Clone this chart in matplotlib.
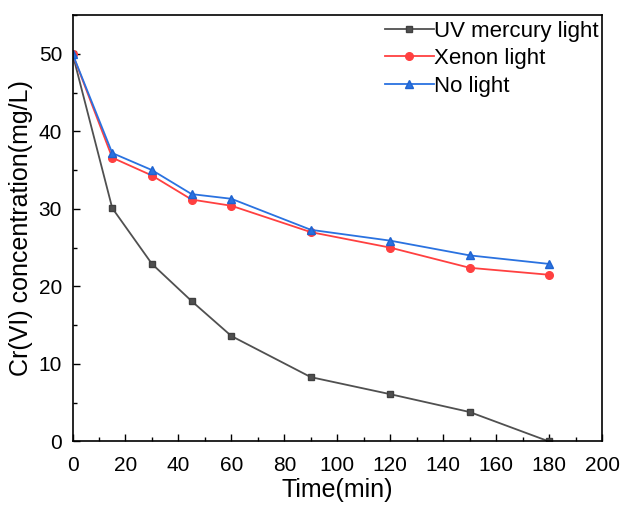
import matplotlib
matplotlib.use("Agg")
import matplotlib.pyplot as plt
from matplotlib.ticker import MultipleLocator

plt.rcParams['font.family'] = ['Liberation Sans', 'DejaVu Sans']

time = [0, 15, 30, 45, 60, 90, 120, 150, 180]
uv_mercury = [50.0, 30.1, 22.9, 18.1, 13.6, 8.3, 6.1, 3.8, 0.0]
xenon = [50.0, 36.6, 34.3, 31.2, 30.4, 27.0, 25.0, 22.4, 21.5]
no_light = [50.0, 37.2, 35.0, 31.9, 31.3, 27.3, 25.9, 24.0, 22.9]

fig = plt.figure(figsize=(6.22, 5.07), dpi=100)
ax = fig.add_axes([0.1166, 0.1292, 0.968 - 0.1166, 0.9704 - 0.1292])

ax.plot(time, uv_mercury, color='#505050', marker='s', markersize=5, lw=1.3,
        markeredgecolor='#404040', label='UV mercury light')
ax.plot(time, xenon, color='#ff4040', marker='o', markersize=5.5, lw=1.3,
        markeredgecolor='#ff4040', label='Xenon light')
ax.plot(time, no_light, color='#2a72e0', marker='^', markersize=6, lw=1.3,
        markeredgecolor='#1f63d0', label='No light')

ax.set_xlim(0, 200)
ax.set_ylim(0, 55)
ax.xaxis.set_major_locator(MultipleLocator(20))
ax.xaxis.set_minor_locator(MultipleLocator(10))
ax.yaxis.set_major_locator(MultipleLocator(10))
ax.yaxis.set_minor_locator(MultipleLocator(5))
ax.tick_params(which='both', direction='in', top=False, right=False, labelsize=15)
ax.tick_params(which='major', length=5, width=1)
ax.tick_params(which='minor', length=3, width=1)
ax.tick_params(axis='x', which='major', pad=10.5)
ax.tick_params(axis='y', which='major', pad=7.5)
for s in ax.spines.values():
    s.set_linewidth(1.2)

ax.set_xlabel('Time(min)', fontsize=18, labelpad=2)
ax.set_ylabel('Cr(VI) concentration(mg/L)', fontsize=18, labelpad=4)

ax.legend(loc='upper right', frameon=False, fontsize=16, handlelength=2.2,
          handletextpad=0.0, borderaxespad=0.1, labelspacing=0.3,
          borderpad=0.15, bbox_to_anchor=(1.003, 1.0))

fig.savefig('out.png', dpi=100)
